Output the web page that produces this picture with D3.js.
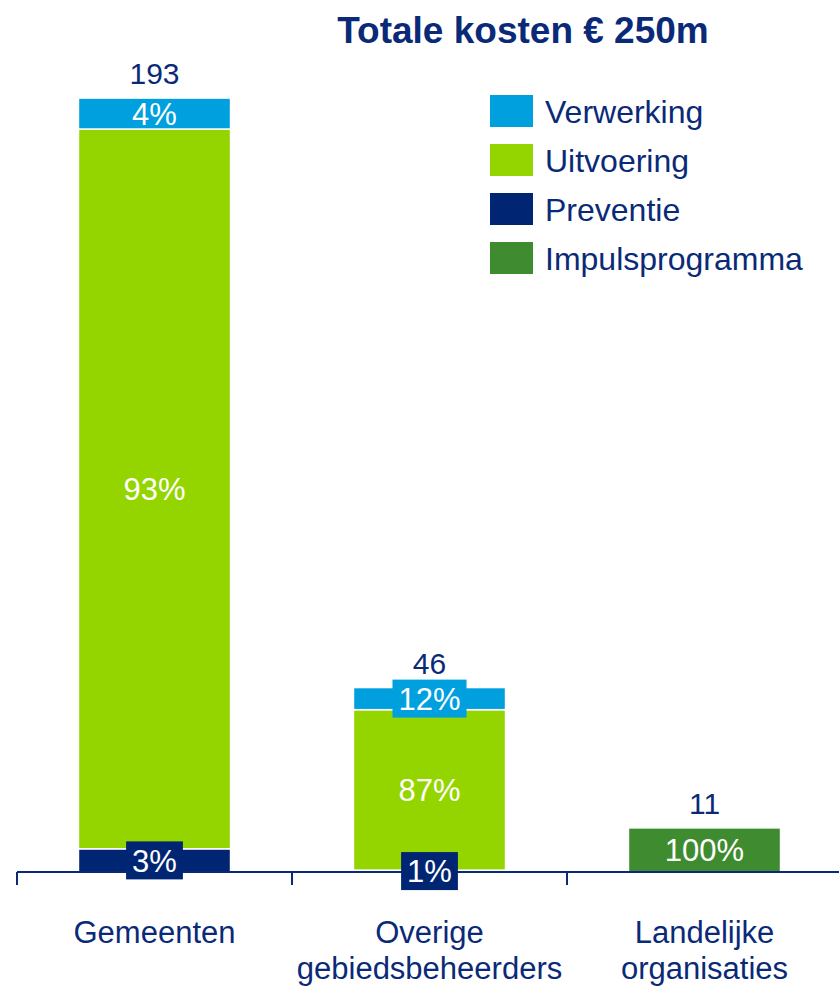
<!DOCTYPE html>
<html>
<head>
<meta charset="utf-8">
<script src="https://cdn.jsdelivr.net/npm/d3@7"></script>
<style>
    body { margin: 0; background: #fff; }
    text { font-family: "Liberation Sans", Arial, sans-serif; }
</style>
</head>
<body>
<div id="chart1-container"></div>
<script>
// STACKED BAR CHART - kosten per partij

// Data

var categories = [["Gemeenten"], ["Overige", "gebiedsbeheerders"], ["Landelijke", "organisaties"]];
var totals = [193, 46, 11];
var seriesNames = ["Preventie", "Uitvoering", "Verwerking", "Impulsprogramma"];   // bottom to top
var preventie = [3, 1, 0];              // percent of each bar
var uitvoering = [93, 87, 0];
var verwerking = [4, 12, 0];
var impuls = [0, 0, 100];
var legendOrder = ["Verwerking", "Uitvoering", "Preventie", "Impulsprogramma"];
var title = "Totale kosten \u20ac 250m";

var colors = {
    "Verwerking": "#00a0df",
    "Uitvoering": "#94d500",
    "Preventie": "#002673",
    "Impulsprogramma": "#3f8b2f"
};
var navy = "#0a2a78";

// Chart variables

var width = 839;
var height = 986;
var baseY = 872;

var svg = d3.select("#chart1-container")
    .append("svg")
    .attr("width", width)
    .attr("height", height);

// Scales

var xScale = d3.scaleBand()
    .range([17, 842])
    .paddingInner(0.447)
    .paddingOuter(0.2235)
    .domain(d3.range(categories.length));

var yScale = d3.scaleLinear()
    .range([baseY, 70])
    .domain([0, 200]);

// Build the stacked segments from the percentages

var pcts = [preventie, uitvoering, verwerking, impuls];
var segments = [];
totals.forEach(function(total, i) {
    var acc = 0;
    seriesNames.forEach(function(name, s) {
        var p = pcts[s][i];
        if (p > 0) {
            var v = total * p / 100;
            segments.push({ i: i, name: name, pct: p, y0: acc, y1: acc + v });
            acc += v;
        }
    });
});

// Bars

svg.selectAll("rect.seg")
    .data(segments)
    .enter()
    .append("rect")
    .attr("class", "seg")
    .attr("x", function(d) { return xScale(d.i); })
    .attr("width", xScale.bandwidth())
    .attr("y", function(d) { return yScale(d.y1); })
    .attr("height", function(d) { return yScale(d.y0) - yScale(d.y1); })
    .attr("fill", function(d) { return colors[d.name]; })
    .attr("stroke", "#fff")
    .attr("stroke-width", 1.5);

// Axis line + ticks at band edges

svg.append("line")
    .attr("x1", 17).attr("x2", width)
    .attr("y1", baseY).attr("y2", baseY)
    .attr("stroke", "#0a2a78")
    .attr("stroke-width", 2);

d3.range(categories.length + 1).forEach(function(k) {
    var tx = xScale.range()[0] + k * xScale.step();
    svg.append("line")
        .attr("x1", tx).attr("x2", tx)
        .attr("y1", baseY).attr("y2", baseY + 13)
        .attr("stroke", "#0a2a78")
        .attr("stroke-width", 2);
});

// Percentage labels (small segments get a box behind the text)

var labels = svg.selectAll("g.lab")
    .data(segments)
    .enter()
    .append("g")
    .attr("class", "lab")
    .attr("transform", function(d) {
        var cx = xScale(d.i) + xScale.bandwidth() / 2;
        var cy = (yScale(d.y0) + yScale(d.y1)) / 2;
        return "translate(" + cx + "," + cy + ")";
    });

labels.append("text")
    .attr("text-anchor", "middle")
    .attr("dy", "0.36em")
    .attr("fill", "#fff")
    .style("font-size", "31px")
    .text(function(d) { return d.pct + "%"; });

labels.each(function(d) {
    var segH = yScale(d.y0) - yScale(d.y1);
    if (segH < 28) {
        var g = d3.select(this);
        var bb = g.select("text").node().getBBox();
        g.insert("rect", "text")
            .attr("x", bb.x - 6)
            .attr("width", bb.width + 12)
            .attr("y", -19)
            .attr("height", 38)
            .attr("fill", colors[d.name]);
    }
});

// Totals above bars

svg.selectAll("text.total")
    .data(totals)
    .enter()
    .append("text")
    .attr("class", "total")
    .attr("x", function(d, i) { return xScale(i) + xScale.bandwidth() / 2; })
    .attr("y", function(d) { return yScale(d) - 14; })
    .attr("text-anchor", "middle")
    .attr("fill", navy)
    .style("font-size", "30px")
    .text(function(d) { return d; });

// Category labels

categories.forEach(function(lines, i) {
    var t = svg.append("text")
        .attr("text-anchor", "middle")
        .attr("fill", navy)
        .style("font-size", "31px");
    lines.forEach(function(line, j) {
        t.append("tspan")
            .attr("x", xScale(i) + xScale.bandwidth() / 2)
            .attr("y", 943 + j * 36)
            .text(line);
    });
});

// Title

svg.append("text")
    .attr("x", 523)
    .attr("y", 43)
    .attr("text-anchor", "middle")
    .attr("fill", navy)
    .style("font-size", "37px")
    .style("font-weight", "bold")
    .text(title);

// Legend

var legend = svg.selectAll("g.legend")
    .data(legendOrder)
    .enter()
    .append("g")
    .attr("class", "legend")
    .attr("transform", function(d, i) { return "translate(490," + (95 + i * 49) + ")"; });

legend.append("rect")
    .attr("width", 43)
    .attr("height", 32)
    .attr("fill", function(d) { return colors[d]; });

legend.append("text")
    .attr("x", 55)
    .attr("y", 16)
    .attr("dy", "0.36em")
    .attr("fill", navy)
    .style("font-size", "32px")
    .text(function(d) { return d; });
</script>
</body>
</html>
